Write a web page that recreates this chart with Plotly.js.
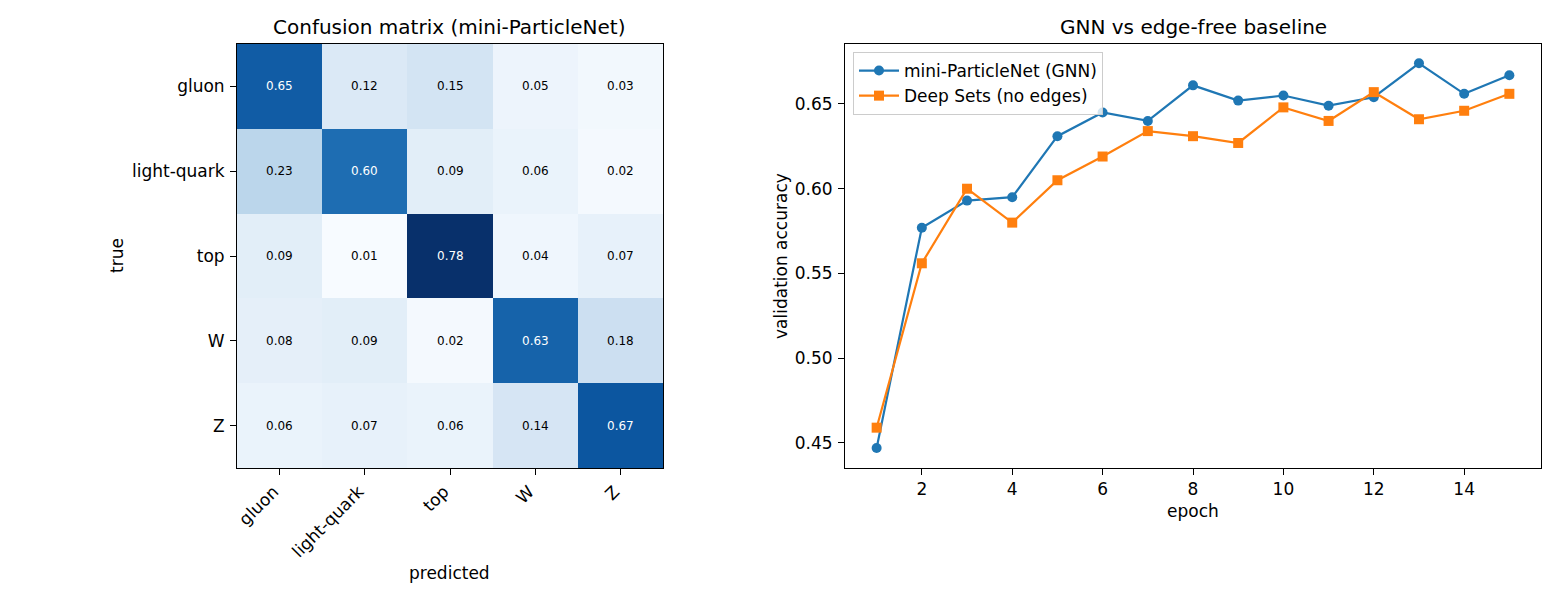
<!DOCTYPE html>
<html>
<head>
<meta charset="utf-8">
<script src="https://cdn.plot.ly/plotly-3.0.1.min.js"></script>
<style>
  html, body { margin: 0; padding: 0; background: #fff; }
  #chart { width: 1560px; height: 600px; }
</style>
</head>
<body>
<div id="chart"></div>
<script>
// Jet classes (rows = true, columns = predicted)
const classes = ['gluon', 'light-quark', 'top', 'W', 'Z'];

// Row-normalised confusion matrix of the GNN
const confusion = [
  [0.65, 0.12, 0.15, 0.05, 0.03],
  [0.23, 0.60, 0.09, 0.06, 0.02],
  [0.09, 0.01, 0.78, 0.04, 0.07],
  [0.08, 0.09, 0.02, 0.63, 0.18],
  [0.06, 0.07, 0.06, 0.14, 0.67]
];

// Validation accuracy per epoch
const epochs = [1, 2, 3, 4, 5, 6, 7, 8, 9, 10, 11, 12, 13, 14, 15];
const accGNN = [0.447, 0.577, 0.593, 0.595, 0.631, 0.645, 0.640, 0.661, 0.652, 0.655, 0.649, 0.654, 0.674, 0.656, 0.667];
const accDeepSets = [0.459, 0.556, 0.600, 0.580, 0.605, 0.619, 0.634, 0.631, 0.627, 0.648, 0.640, 0.657, 0.641, 0.646, 0.656];

const FONT = 'DejaVu Sans, sans-serif';
const blues = ['#f7fbff', '#deebf7', '#c6dbef', '#9ecae1', '#6baed6', '#4292c6', '#2171b5', '#08519c', '#08306b'];
const bluesScale = blues.map((c, i) => [i / (blues.length - 1), c]);

const flat = confusion.flat();
const zmin = Math.min(...flat), zmax = Math.max(...flat);
const thresh = (zmin + zmax) / 2;

const heat = {
  type: 'heatmap',
  x: classes, y: classes, z: confusion,
  colorscale: bluesScale, zmin: zmin, zmax: zmax,
  showscale: false, xaxis: 'x', yaxis: 'y',
  hoverinfo: 'x+y+z'
};

const gnn = {
  type: 'scatter', mode: 'lines+markers',
  x: epochs, y: accGNN, name: 'mini-ParticleNet (GNN)',
  line: { color: '#1f77b4', width: 2.2 },
  marker: { color: '#1f77b4', symbol: 'circle', size: 10 },
  xaxis: 'x2', yaxis: 'y2'
};
const deep = {
  type: 'scatter', mode: 'lines+markers',
  x: epochs, y: accDeepSets, name: 'Deep Sets (no edges)',
  line: { color: '#ff7f0e', width: 2.2 },
  marker: { color: '#ff7f0e', symbol: 'square', size: 10 },
  xaxis: 'x2', yaxis: 'y2'
};

// Cell value labels, light text on dark cells
const cellNotes = [];
confusion.forEach((row, i) => row.forEach((v, j) => {
  cellNotes.push({
    x: classes[j], y: classes[i], xref: 'x', yref: 'y',
    text: v.toFixed(2), showarrow: false,
    font: { family: FONT, size: 12, color: v > thresh ? '#ffffff' : '#000000' }
  });
}));

const H = 600, W = 1560;
const yDom = [1 - 468 / H, 1 - 44 / H];

const axisBase = {
  showline: true, mirror: true, linecolor: '#000', linewidth: 1,
  ticks: 'outside', ticklen: 6, tickwidth: 1, tickcolor: '#000',
  showgrid: false, zeroline: false, automargin: false,
  tickfont: { family: FONT, size: 17, color: '#000' }
};

const textNote = (text, x, y, size, angle) => ({
  text: text, xref: 'paper', yref: 'paper', x: x / W, y: 1 - y / H,
  xanchor: 'center', yanchor: 'middle', showarrow: false, textangle: angle || 0,
  font: { family: FONT, size: size, color: '#000' }
});

const layout = {
  width: W, height: H,
  margin: { l: 0, r: 0, t: 0, b: 0 },
  paper_bgcolor: '#fff', plot_bgcolor: '#fff',
  font: { family: FONT, color: '#000' },
  showlegend: true,
  legend: {
    x: 853 / W, y: 1 - 52 / H, xanchor: 'left', yanchor: 'top',
    bgcolor: 'rgba(255,255,255,0.8)', bordercolor: '#cccccc', borderwidth: 1,
    font: { family: FONT, size: 17, color: '#000' },
    tracegroupgap: 0, itemwidth: 40
  },
  xaxis: Object.assign({}, axisBase, {
    domain: [237 / W, 663 / W], anchor: 'y', tickangle: -45,
    type: 'category', ticklabelshift: -6
  }),
  yaxis: Object.assign({}, axisBase, {
    domain: yDom, anchor: 'x', autorange: 'reversed', type: 'category',
    ticklabelstandoff: 2
  }),
  xaxis2: Object.assign({}, axisBase, {
    domain: [845 / W, 1541 / W], anchor: 'y2', range: [0.3, 15.7],
    tick0: 0, dtick: 2
  }),
  yaxis2: Object.assign({}, axisBase, {
    domain: yDom, anchor: 'x2', range: [0.4352, 0.6854],
    tick0: 0.45, dtick: 0.05, tickformat: '.2f', ticklabelstandoff: 2
  }),
  annotations: cellNotes.concat([
    textNote('Confusion matrix (mini-ParticleNet)', 450, 27, 20),
    textNote('GNN vs edge-free baseline', 1193, 27, 20),
    textNote('predicted', 450, 573, 17),
    textNote('true', 117, 256, 17, -90),
    textNote('epoch', 1193, 511, 17),
    textNote('validation accuracy', 781, 256, 17, -90)
  ])
};

Plotly.newPlot('chart', [heat, gnn, deep], layout, { staticPlot: true, displayModeBar: false });
</script>
</body>
</html>
